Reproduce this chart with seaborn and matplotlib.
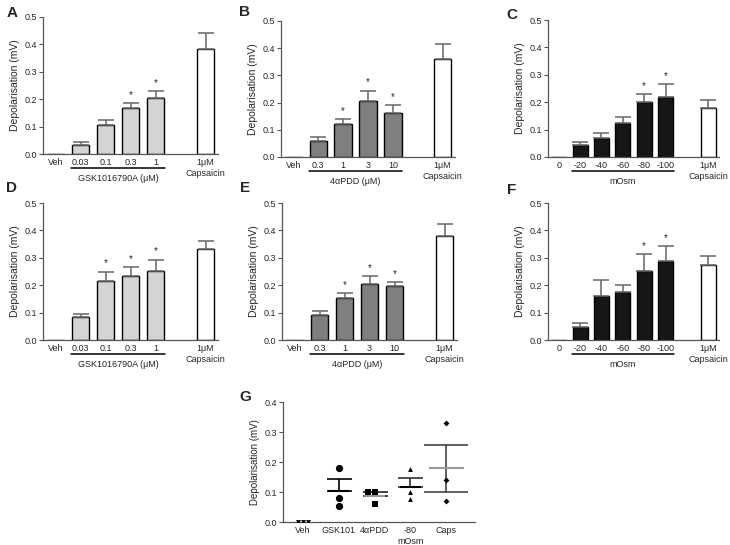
import numpy as np
import pandas as pd
import matplotlib
matplotlib.use("Agg")
import matplotlib.pyplot as plt
import seaborn as sns

# ---- data ----
caps_label = "1\u03bcM\nCapsaicin"
gsk_doses = ["Veh", "0.03", "0.1", "0.3", "1"]
pdd_doses = ["Veh", "0.3", "1", "3", "10"]
osm_steps = ["0", "-20", "-40", "-60", "-80", "-100"]

# means / SEM, last entry = capsaicin
a_means = [0.0, 0.033, 0.107, 0.168, 0.205, 0.385]
a_sem = [0.0, 0.010, 0.018, 0.017, 0.025, 0.057]
a_sig = [0, 0, 0, 1, 1, 0]

b_means = [0.0, 0.057, 0.120, 0.207, 0.160, 0.362]
b_sem = [0.0, 0.017, 0.018, 0.037, 0.032, 0.055]
b_sig = [0, 0, 1, 1, 1, 0]

c_means = [0.0, 0.042, 0.068, 0.125, 0.200, 0.218, 0.178]
c_sem = [0.0, 0.014, 0.018, 0.020, 0.030, 0.048, 0.030]
c_sig = [0, 0, 0, 0, 1, 1, 0]

d_means = [0.0, 0.085, 0.217, 0.232, 0.253, 0.333]
d_sem = [0.0, 0.010, 0.032, 0.035, 0.040, 0.027]
d_sig = [0, 0, 1, 1, 1, 0]

e_means = [0.0, 0.090, 0.155, 0.203, 0.196, 0.378]
e_sem = [0.0, 0.017, 0.015, 0.030, 0.015, 0.045]
e_sig = [0, 0, 1, 1, 1, 0]

f_means = [0.0, 0.047, 0.162, 0.176, 0.253, 0.288, 0.275]
f_sem = [0.0, 0.014, 0.057, 0.025, 0.060, 0.055, 0.030]
f_sig = [0, 0, 0, 0, 1, 1, 0]

g_groups = ["Veh", "GSK101", "4\u03b1PDD", "-80\nmOsm", "Caps"]
g_veh = [0.0, 0.0, 0.0]
g_gsk = [0.180, 0.080, 0.052]
g_pdd = [0.100, 0.100, 0.060]
g_osm = [0.176, 0.100, 0.078]
g_caps = [0.330, 0.139, 0.069]

sns.set_style("ticks")
plt.rcParams["font.family"] = ["Liberation Sans", "DejaVu Sans"]

W, H = 730, 545
fig = plt.figure(figsize=(W / 100, H / 100), dpi=100)


def make_ax(l, t, r, b):
    return fig.add_axes([l / W, 1 - b / H, (r - l) / W, (b - t) / H])


def style_ax(ax, ylab_size=7.5):
    sns.despine(ax=ax)
    for s in ("left", "bottom"):
        ax.spines[s].set_color("#555555")
        ax.spines[s].set_linewidth(0.9)
    ax.tick_params(axis="x", length=0, labelsize=6.5, pad=3)
    ax.tick_params(axis="y", length=3, width=0.8, color="#555555", labelsize=6.5, pad=1.5)
    ax.set_xlabel("")
    ax.set_ylabel("Depolarisation (mV)", fontsize=ylab_size, labelpad=3)


def bar_panel(ax, doses, means, sems, sig, fill, group_label):
    cats = doses + [" ", caps_label]
    conds = doses + [caps_label]
    df = pd.DataFrame({"cond": conds, "dep": means, "sem": sems, "sig": sig})
    pal = {c: fill for c in doses}
    pal[caps_label] = "white"
    sns.barplot(data=df, x="cond", y="dep", hue="cond", order=cats,
                palette=pal, width=0.7, edgecolor="black", linewidth=1.0,
                errorbar=None, legend=False, ax=ax)
    xpos = np.array([cats.index(c) for c in conds])
    has_err = df["sem"].to_numpy() > 0
    ax.errorbar(xpos[has_err], df["dep"][has_err],
                yerr=[np.zeros(has_err.sum()), df["sem"][has_err]],
                fmt="none", ecolor="#666666", elinewidth=1.1, capsize=5.5,
                capthick=1.1, zorder=1)
    for x, m, s, flag in zip(xpos, df["dep"], df["sem"], df["sig"]):
        if flag:
            ax.text(x, m + s + 0.03, "*", ha="center", va="center", fontsize=7)
    ax.set_ylim(0, 0.5)
    ax.set_yticks(np.arange(0, 0.51, 0.1))
    ax.set_yticklabels([f"{v:.1f}" for v in np.arange(0, 0.51, 0.1)])
    ax.set_xlim(-0.5, len(cats) - 0.5)
    style_ax(ax)
    tr = ax.get_xaxis_transform()
    ax.plot([1 - 0.38, len(doses) - 1 + 0.38], [-0.105, -0.105], color="black",
            lw=1.1, transform=tr, clip_on=False)
    ax.text((len(doses)) / 2, -0.18, group_label, transform=tr, ha="center",
            va="center", fontsize=6.5)


light, mid, dark = "#d4d4d4", "#7f7f7f", "#161616"

bar_panel(make_ax(43, 17, 218, 154), gsk_doses, a_means, a_sem, a_sig, light,
          "GSK1016790A (\u03bcM)")
bar_panel(make_ax(281, 21, 455, 157), pdd_doses, b_means, b_sem, b_sig, mid,
          "4\u03b1PDD (\u03bcM)")
bar_panel(make_ax(548, 20, 719, 157), osm_steps, c_means, c_sem, c_sig, dark, "mOsm")
bar_panel(make_ax(43, 203, 218, 340), gsk_doses, d_means, d_sem, d_sig, light,
          "GSK1016790A (\u03bcM)")
bar_panel(make_ax(282, 203, 457, 340), pdd_doses, e_means, e_sem, e_sig, mid,
          "4\u03b1PDD (\u03bcM)")
bar_panel(make_ax(548, 203, 719, 340), osm_steps, f_means, f_sem, f_sig, dark, "mOsm")

# ---- panel G: scatter with mean +/- SEM ----
axg = make_ax(283, 402, 475, 522)
g_values = [g_veh, g_gsk, g_pdd, g_osm, g_caps]
gdf = pd.DataFrame({
    "group": np.repeat(g_groups, [len(v) for v in g_values]),
    "dep": np.concatenate(g_values),
})
markers = ["v", "o", "s", "^", "D"]
msizes = [3.5, 5.2, 4.6, 3.5, 3.0]
mean_colors = [None, "black", "#9a9a9a", "black", "#9a9a9a"]
err_colors = [None, "black", "#222222", "#333333", "#444444"]
mean_halfw = [0, 0.3, 0.3, 0.3, 0.48]
cap_pts = [0, 9, 9, 9, 16]
both_sides = [False, False, False, False, True]

for i, g in enumerate(g_groups):
    sub = gdf[gdf["group"] == g]
    sns.swarmplot(data=sub, x="group", y="dep", order=g_groups, marker=markers[i],
                  size=msizes[i], color="black", ax=axg, zorder=3)
    if mean_colors[i] is None:
        continue
    vals = sub["dep"].to_numpy()
    m = vals.mean()
    sem = vals.std(ddof=1) / np.sqrt(len(vals))
    yerr = sem if both_sides[i] else [[0], [sem]]
    axg.errorbar(i, m, yerr=yerr, fmt="none", ecolor=err_colors[i], elinewidth=1.2,
                 capsize=cap_pts[i], capthick=1.2, zorder=2)
    axg.hlines(m, i - mean_halfw[i], i + mean_halfw[i], colors=mean_colors[i],
               lw=1.5, zorder=2)

axg.set_ylim(0, 0.4)
axg.set_yticks(np.arange(0, 0.41, 0.1))
axg.set_yticklabels([f"{v:.1f}" for v in np.arange(0, 0.41, 0.1)])
axg.set_xlim(-0.55, 4.8)
style_ax(axg, ylab_size=7)

for lab, x, y in [("A", 12, 13), ("B", 245, 12), ("C", 512, 15), ("D", 12, 188),
                  ("E", 245, 188), ("F", 512, 190), ("G", 245, 397)]:
    fig.text(x / W, 1 - y / H, lab, fontsize=11, fontweight="bold",
             ha="center", va="center")

fig.savefig("out.png", dpi=100)
